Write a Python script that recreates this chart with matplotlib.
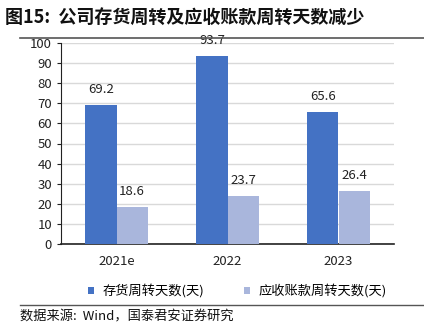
import numpy as np
import matplotlib.pyplot as plt
from matplotlib.lines import Line2D

plt.rcParams['font.family'] = ['Noto Sans CJK SC', 'DejaVu Sans']

# data
years = ['2021e', '2022', '2023']
inventory_days = [69.2, 93.7, 65.6]
receivable_days = [18.6, 23.7, 26.4]
series_names = ['存货周转天数(天)', '应收账款周转天数(天)']
yticks = np.arange(0, 101, 10)

c_dark = '#4472C4'
c_light = '#A9B6DC'

fig = plt.figure(figsize=(4.24, 3.36), dpi=100)
ax = fig.add_axes([61/424, 1-244/336, 333/424, 201/336])

x = np.arange(len(years))
w = 0.28
b1 = ax.bar(x - w/2, inventory_days, w, color=c_dark, label=series_names[0], zorder=3)
b2 = ax.bar(x + w/2, receivable_days, w, color=c_light, label=series_names[1], zorder=3)

for bars, vals in [(b1, inventory_days), (b2, receivable_days)]:
    for r, v in zip(bars, vals):
        ax.text(r.get_x() + r.get_width()/2, v + 4.5, f'{v:.1f}',
                ha='center', va='bottom', fontsize=9.5, color='#222222')

ax.set_xlim(-0.5, 2.5)
ax.set_ylim(0, 100)
ax.set_yticks(yticks)
ax.set_xticks(x)
ax.set_xticklabels(years)
ax.tick_params(axis='y', labelsize=9.5, length=3, direction='out', colors='#222222')
ax.tick_params(axis='x', labelsize=9.5, length=0, pad=8, colors='#222222')
ax.grid(axis='y', color='#D9D9D9', linewidth=1, zorder=0)
for s in ['top', 'right']:
    ax.spines[s].set_visible(False)
ax.spines['left'].set_color('#222222')
ax.spines['bottom'].set_color('#222222')
ax.spines['bottom'].set_linewidth(1.2)

leg = fig.legend(handles=[b1, b2], labels=series_names, loc='center',
                 bbox_to_anchor=(237/424, 1-291/336), ncol=2, frameon=False,
                 fontsize=9.5, handlelength=0.5, handleheight=0.5,
                 columnspacing=3.0, handletextpad=0.6)

# header and footer
fig.text(5/424, 1-17/336, '图15:  公司存货周转及应收账款周转天数减少',
         fontsize=13, fontweight='bold', va='center', ha='left', color='#111111')
fig.add_artist(Line2D([20/424, 1], [1-37.5/336]*2, color='#555555', linewidth=1.2))
fig.add_artist(Line2D([20/424, 1], [1-305/336]*2, color='#555555', linewidth=1.0))
fig.text(20/424, 1-317/336, '数据来源:  Wind，国泰君安证券研究',
         fontsize=9.5, va='center', ha='left', color='#111111')

fig.savefig('out.png', dpi=100)
